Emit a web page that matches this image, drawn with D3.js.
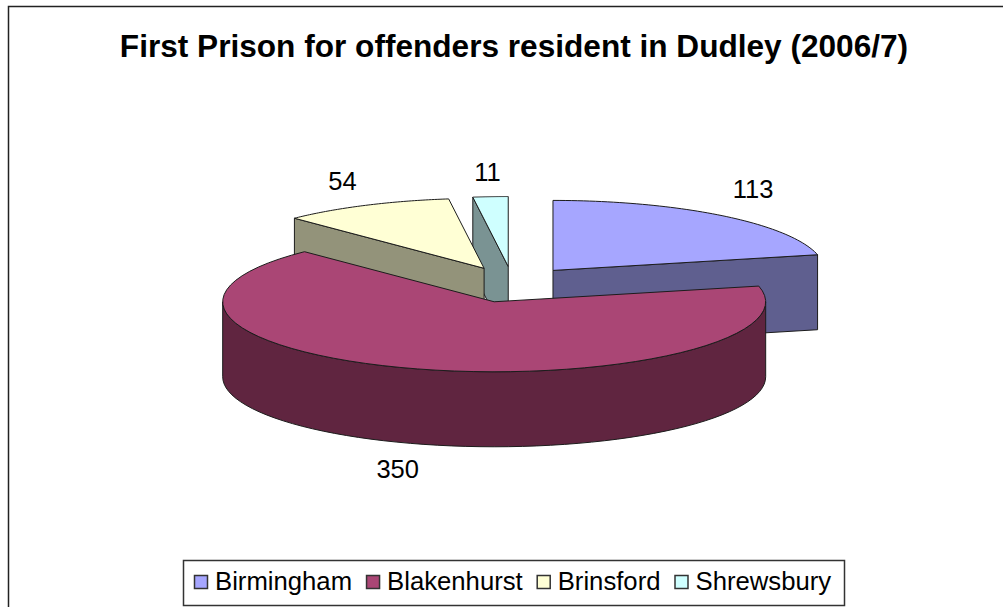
<!DOCTYPE html>
<html>
<head>
<meta charset="utf-8">
<script src="https://cdn.jsdelivr.net/npm/d3@7"></script>
<style>
  html, body { margin: 0; padding: 0; background: #fff; overflow: hidden; }
  text { font-family: "Liberation Sans", Arial, sans-serif; fill: #000; }
</style>
</head>
<body>
<div id="chart"></div>
<script>
// Data
var chartTitle = "First Prison for offenders resident in Dudley (2006/7)";
var prisons = ["Birmingham", "Blakenhurst", "Brinsford", "Shrewsbury"];
var offenders = [113, 350, 54, 11];

// Colours
var topColors = ["#a6a6ff", "#aa4675", "#ffffd5", "#cfffff"];
var sideColors = ["#5f5f8f", "#602540", "#93937a", "#7a9393"];

// Layout
var width = 1003, height = 607;
var cx = 512.5, cy = 284.5; // pie centre before the slices are pulled out
var rx = 271.5, ry = 70;    // top ellipse
var depth = 75;
var explodeX = 65, explodeY = 18;
var labelNudge = [[31, -27], [-20, 25], [-23, -25], [-3, -25]]; // from rim at mid angle
var drawOrder = [0, 3, 2, 1]; // back to front

var svg = d3.select("#chart").append("svg")
  .attr("width", width)
  .attr("height", height);

// frame runs off the right and bottom of the picture
svg.append("path")
  .attr("d", "M8.5," + (height + 5) + "V6.5H" + (width + 5))
  .attr("fill", "none")
  .attr("stroke", "#222")
  .attr("stroke-width", 1.5);

svg.append("text")
  .attr("x", 514)
  .attr("y", 57)
  .attr("text-anchor", "middle")
  .attr("font-size", "31.6px")
  .attr("font-weight", "bold")
  .text(chartTitle);

/* Slices */
var pie = d3.pie().sort(null).value(d => d);
var slices = pie(offenders);

// unit circle to screen, 0 is 12 o'clock and angles go clockwise
var xScale = d3.scaleLinear().domain([-1, 1]).range([-rx, rx]);
var yScale = d3.scaleLinear().domain([-1, 1]).range([-ry, ry]);
var line = d3.line();

function centre(s) {
  var mid = (s.startAngle + s.endAngle) / 2;
  return [cx + explodeX * Math.sin(mid), cy - explodeY * Math.cos(mid)];
}

function rim(c, a, drop) {
  return [c[0] + xScale(Math.sin(a)), c[1] - yScale(Math.cos(a)) + (drop || 0)];
}

function arcPoints(c, a0, a1, drop) {
  return d3.range(0, 61).map(i => rim(c, a0 + (a1 - a0) * i / 60, drop));
}

function drawFace(points, fill) {
  svg.append("path")
    .attr("d", line(points) + "Z")
    .attr("fill", fill)
    .attr("stroke", "#1c1c1c")
    .attr("stroke-width", 1)
    .attr("stroke-linejoin", "round");
}

function drawCut(c, a, fill) {
  var p = rim(c, a);
  drawFace([c, p, [p[0], p[1] + depth], [c[0], c[1] + depth]], fill);
}

drawOrder.forEach(i => {
  var s = slices[i];
  var c = centre(s);

  // cut faces that turn towards the viewer
  if (Math.sin(s.endAngle) > 0.001) drawCut(c, s.endAngle, sideColors[i]);
  if (Math.sin(s.startAngle) < -0.001) drawCut(c, s.startAngle, sideColors[i]);

  // outer wall, only the front half of the ellipse shows
  var a0 = Math.max(s.startAngle, Math.PI / 2);
  var a1 = Math.min(s.endAngle, Math.PI * 1.5);
  if (a1 > a0) {
    drawFace(arcPoints(c, a0, a1).concat(arcPoints(c, a1, a0, depth)), sideColors[i]);
  }

  // top
  drawFace([c].concat(arcPoints(c, s.startAngle, s.endAngle)), topColors[i]);
});

/* Value labels */
slices.forEach((s, i) => {
  var mid = (s.startAngle + s.endAngle) / 2;
  var p = rim(centre(s), mid, Math.cos(mid) < 0 ? depth : 0);
  svg.append("text")
    .attr("x", p[0] + labelNudge[i][0])
    .attr("y", p[1] + labelNudge[i][1])
    .attr("dy", "0.36em")
    .attr("text-anchor", "middle")
    .attr("font-size", "25.5px")
    .text(s.data);
});

/* Legend */
var legendX = 183, legendY = 560, legendW = 661, legendH = 45;
svg.append("rect")
  .attr("x", legendX + 0.5)
  .attr("y", legendY + 0.5)
  .attr("width", legendW)
  .attr("height", legendH)
  .attr("fill", "#fff")
  .attr("stroke", "#333")
  .attr("stroke-width", 1.5);

var keyX = legendX + 11;
prisons.forEach((name, i) => {
  svg.append("rect")
    .attr("x", keyX + 0.5)
    .attr("y", legendY + 15.5)
    .attr("width", 13)
    .attr("height", 13)
    .attr("fill", topColors[i])
    .attr("stroke", "#333")
    .attr("stroke-width", 1.5);
  var label = svg.append("text")
    .attr("x", keyX + 21)
    .attr("y", legendY + 30)
    .attr("font-size", "25.7px")
    .text(name);
  keyX += 21 + label.node().getComputedTextLength() + 14;
});
</script>
</body>
</html>
